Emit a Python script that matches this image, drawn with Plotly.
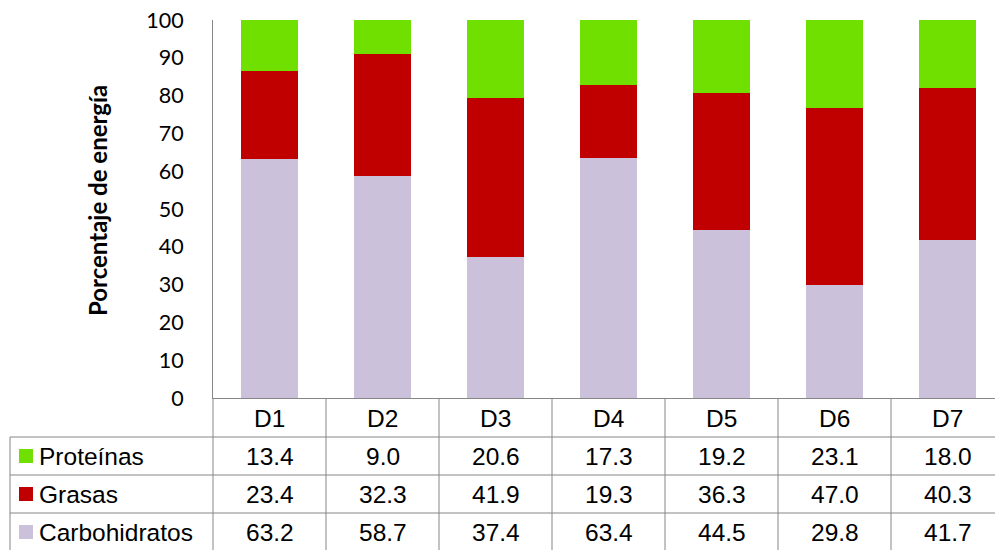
import plotly.graph_objects as go

# Data
categories = ["D1", "D2", "D3", "D4", "D5", "D6", "D7"]
proteinas = [13.4, 9.0, 20.6, 17.3, 19.2, 23.1, 18.0]
grasas = [23.4, 32.3, 41.9, 19.3, 36.3, 47.0, 40.3]
carbohidratos = [63.2, 58.7, 37.4, 63.4, 44.5, 29.8, 41.7]

series = [
    ("Carbohidratos", carbohidratos, "#CCC1DA"),
    ("Grasas", grasas, "#C00000"),
    ("Proteínas", proteinas, "#70E000"),
]
table_order = ["Proteínas", "Grasas", "Carbohidratos"]

# Layout geometry (pixels)
W, H = 995, 550
L, T, R, B = 213, 20, 0, 152
PW, PH = W - L - R, H - T - B
CAT_W = 113.0
X0 = -0.5
X1 = X0 + PW / CAT_W
GRID = "#868686"
TABLE_FONT = dict(family="Liberation Sans, Arial", size=24.5, color="#000000")


def px(xp):
    return (xp - L) / PW


def py(yp):
    return (H - B - yp) / PH


def cat_to_paper(v):
    return (v - X0) / (X1 - X0)


fig = go.Figure()
for name, vals, color in series:
    fig.add_trace(go.Bar(x=categories, y=vals, name=name, marker_color=color,
                         marker_line_width=0, width=0.5, showlegend=False))

shapes = []
annotations = []

# Table rows
row_top = [399, 437, 475, 513]
row_h = 38
line = dict(color=GRID, width=1)
for yp in row_top[1:] + [551]:
    shapes.append(dict(type="line", xref="paper", yref="paper", x0=px(10), x1=px(W + 10),
                       y0=py(yp), y1=py(yp), line=line))
shapes.append(dict(type="line", xref="paper", yref="paper", x0=px(10), x1=px(10),
                   y0=py(437), y1=py(H + 5), line=line))
for i in range(len(categories) + 1):
    xb = cat_to_paper(i - 0.5)
    shapes.append(dict(type="line", xref="paper", yref="paper", x0=xb, x1=xb,
                       y0=py(399), y1=py(H + 5), line=line))

# Header row
for c in categories:
    annotations.append(dict(x=c, xref="x", y=py(row_top[0] + row_h / 2), yref="paper",
                            text=c, showarrow=False, font=TABLE_FONT,
                            xanchor="center", yanchor="middle"))

lookup = {name: (vals, color) for name, vals, color in series}
for r, name in enumerate(table_order):
    vals, color = lookup[name]
    yc = row_top[r + 1] + row_h / 2
    shapes.append(dict(type="rect", xref="paper", yref="paper",
                       x0=px(19), x1=px(33), y0=py(yc - 7), y1=py(yc + 7),
                       fillcolor=color, line=dict(width=0)))
    annotations.append(dict(x=px(37), xref="paper", y=py(yc), yref="paper",
                            text=name, showarrow=False, font=TABLE_FONT,
                            xanchor="left", yanchor="middle"))
    for c, v in zip(categories, vals):
        annotations.append(dict(x=c, xref="x", y=py(yc), yref="paper",
                                text=f"{v:.1f}", showarrow=False, font=TABLE_FONT,
                                xanchor="center", yanchor="middle"))

# Axis title
annotations.append(dict(x=px(97), xref="paper", y=py(201), yref="paper",
                        text="<b>Porcentaje de energía</b>", textangle=-90,
                        showarrow=False, font=dict(family="Lato", size=24, color="#000000"),
                        xanchor="center", yanchor="middle"))

fig.update_layout(
    barmode="stack",
    width=W, height=H,
    margin=dict(l=L, r=R, t=T, b=B, pad=0),
    paper_bgcolor="white", plot_bgcolor="white",
    shapes=shapes, annotations=annotations,
    xaxis=dict(range=[X0, X1], showticklabels=False, showgrid=False, zeroline=False,
               showline=True, linecolor=GRID, linewidth=1, ticks=""),
    yaxis=dict(range=[0, 100], dtick=10, showgrid=False, zeroline=False,
               showline=True, linecolor=GRID, linewidth=1, ticks="outside",
               ticklen=0, ticklabelstandoff=24,
               tickfont=dict(family="Lato", size=21.5, color="#000000")),
)

fig.write_html("out.html")
